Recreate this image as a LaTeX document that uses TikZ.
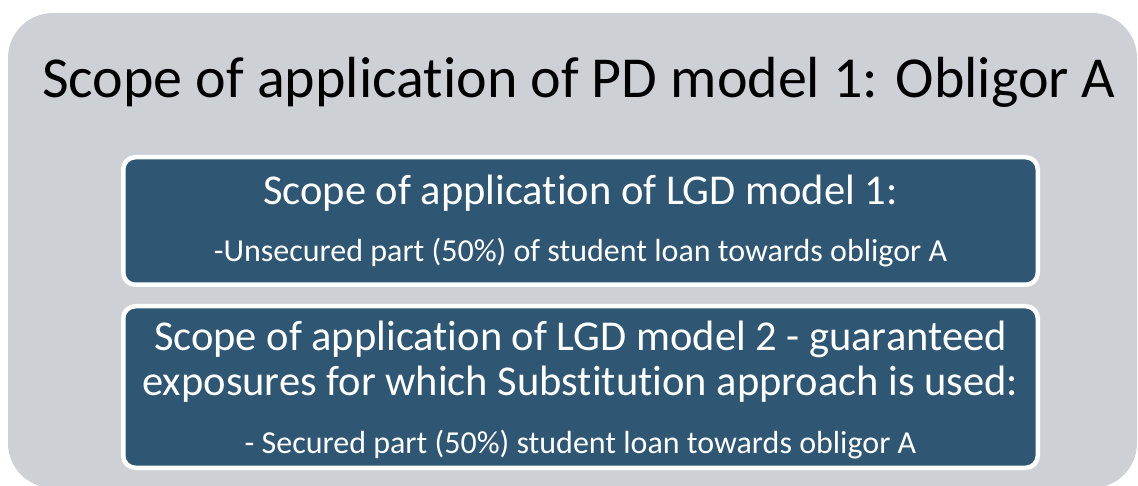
\documentclass[tikz,border=0pt]{standalone}
\usepackage{fontspec}
\setmainfont{Carlito}[Ligatures=NoCommon]
\usetikzlibrary{calc,backgrounds}
\definecolor{scopegray}{RGB}{205,208,213}
\definecolor{scopeblue}{RGB}{47,86,115}
\tikzset{
	lgdbox/.style={fill=scopeblue, draw=white, line width=4.5pt, rounded corners=12pt, inner sep=0pt},
	headtext/.style={anchor=base, text=black, font=\fontsize{58}{64}\selectfont},
	boxhead/.style={anchor=base, text=white, font=\fontsize{42.5}{48}\selectfont},
	boxnote/.style={anchor=base, text=white, font=\fontsize{32}{36}\selectfont},
}
\begin{document}
\begin{tikzpicture}[x=1pt,y=1pt]
\useasboundingbox (0,0) rectangle (1138,485);
\fill[scopegray, rounded corners=45pt] (8,-3) rectangle (1137,472);
\node[headtext] (pdtitle) at (579,387) {Scope of application of PD model 1: Obligor A};
\node[lgdbox, minimum width=914.5pt, minimum height=127.5pt] (lgdone) at (580.5,264) {};
\node[boxhead] (lgdonehead) at (580.5,280) {Scope of application of LGD model 1:};
\node[boxnote] (lgdonenote) at (580.5,223) {-Unsecured part (50\%) of student loan towards obligor A};
\node[lgdbox, minimum width=914.5pt, minimum height=161.5pt] (lgdtwo) at (580.5,98) {};
\node[boxhead] (lgdtwohead) at (580.5,135) {Scope of application of LGD model 2 - guaranteed};
\node[boxhead] (lgdtwohead2) at (580.5,90) {exposures for which Substitution approach is used:};
\node[boxnote] (lgdtwonote) at (580.5,32) {- Secured part (50\%) student loan towards obligor A};
\end{tikzpicture}
\end{document}
